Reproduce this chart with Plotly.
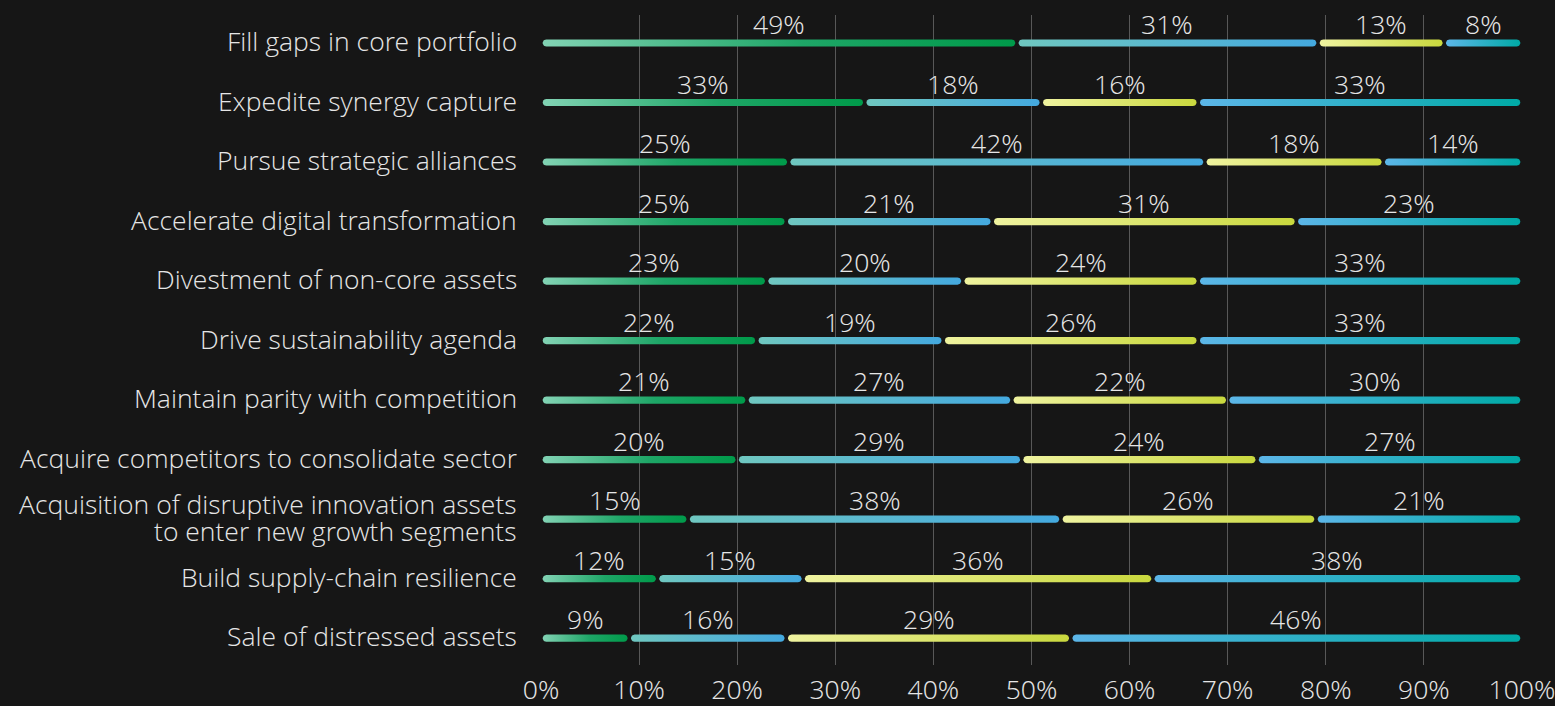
import numpy as np
import plotly.graph_objects as go

# dados (percentuais por segmento)
categorias = [
    "Fill gaps in core portfolio",
    "Expedite synergy capture",
    "Pursue strategic alliances",
    "Accelerate digital transformation",
    "Divestment of non-core assets",
    "Drive sustainability agenda",
    "Maintain parity with competition",
    "Acquire competitors to consolidate sector",
    "Acquisition of disruptive innovation assets<br>to enter new growth segments",
    "Build supply-chain resilience",
    "Sale of distressed assets",
]
seg1 = [49, 33, 25, 25, 23, 22, 21, 20, 15, 12, 9]
seg2 = [31, 18, 42, 21, 20, 19, 27, 29, 38, 15, 16]
seg3 = [13, 16, 18, 31, 24, 26, 22, 24, 26, 36, 29]
seg4 = [8, 33, 14, 23, 33, 33, 30, 27, 21, 38, 46]
xticks = [0, 10, 20, 30, 40, 50, 60, 70, 80, 90, 100]

# gradientes de cada segmento
gradientes = [
    [[0, "#82d3b4"], [0.55, "#1ea667"], [1, "#009a4a"]],
    [[0, "#6fc7c0"], [1, "#44a9df"]],
    [[0, "#eff39f"], [1, "#c9d83e"]],
    [[0, "#5cb6e8"], [1, "#00aaa6"]],
]

W, H = 1555, 706
ml, mr, mt, mb = 541, 33, 15, 41
ux = 100 / (W - ml - mr)          # unidades x por pixel
y_range = [10.45, -0.47]
uy = (y_range[0] - y_range[1]) / (H - mt - mb)  # unidades y por pixel

r = 3.6      # raio da barra em px
gap = 3.4    # espaco entre segmentos em px

fonte = dict(family="Open Sans Light, Open Sans", size=26.5, color="#e6e6e6", weight=300)

fig = go.Figure()
anotacoes = []

series = [seg1, seg2, seg3, seg4]
for i, cat in enumerate(categorias):
    # rotulo da categoria (linhas separadas p/ controlar o espacamento)
    linhas = cat.split("<br>")
    for k, linha in enumerate(linhas):
        desl = (len(linhas) - 1) * 13.5 - k * 27 + 2
        anotacoes.append(dict(
            x=0, y=i, xref="paper", yref="y", text=linha, showarrow=False,
            xanchor="right", yanchor="middle", xshift=-22, yshift=desl,
            font=fonte,
        ))
    vals = [s[i] for s in series]
    total = sum(vals)
    inicio = 0.0
    for j, v in enumerate(vals):
        fim = inicio + v * 100 / total
        xa = inicio + (gap / 2 + r) * ux
        xb = fim - (gap / 2 + r) * ux
        t1 = np.linspace(-np.pi / 2, np.pi / 2, 12)
        t2 = np.linspace(np.pi / 2, 3 * np.pi / 2, 12)
        xs = list(xb + r * ux * np.cos(t1)) + list(xa + r * ux * np.cos(t2))
        ys = list(i + r * uy * np.sin(t1)) + list(i + r * uy * np.sin(t2))
        xs.append(xs[0])
        ys.append(ys[0])
        fig.add_trace(go.Scatter(
            x=xs, y=ys, mode="lines", fill="toself",
            line=dict(width=0, color="rgba(0,0,0,0)"),
            fillgradient=dict(type="horizontal", colorscale=gradientes[j]),
            hoverinfo="skip", showlegend=False,
        ))
        anotacoes.append(dict(
            x=(inicio + fim) / 2, y=i, text=f"{v}%", showarrow=False,
            xref="x", yref="y", yanchor="bottom", yshift=-1,
            font=fonte,
        ))
        inicio = fim

fig.update_layout(
    width=W, height=H,
    margin=dict(l=ml, r=mr, t=mt, b=mb),
    paper_bgcolor="#161616",
    plot_bgcolor="#161616",
    font=fonte,
    annotations=anotacoes,
)
fig.update_xaxes(
    range=[0, 100], tickvals=xticks, ticktext=[f"{v}%" for v in xticks],
    showgrid=True, gridcolor="#585858", gridwidth=1,
    zeroline=False, showline=False, ticklabelstandoff=6,
    ticklabeloverflow="allow",
    tickfont=fonte, automargin=False,
)
fig.update_yaxes(
    range=y_range, showticklabels=False,
    showgrid=False, zeroline=False, showline=False, automargin=False,
)

fig.write_html(
    "out.html",
    config={"displayModeBar": False},
    post_script="document.body.style.margin='0';document.body.style.background='#161616';",
)
